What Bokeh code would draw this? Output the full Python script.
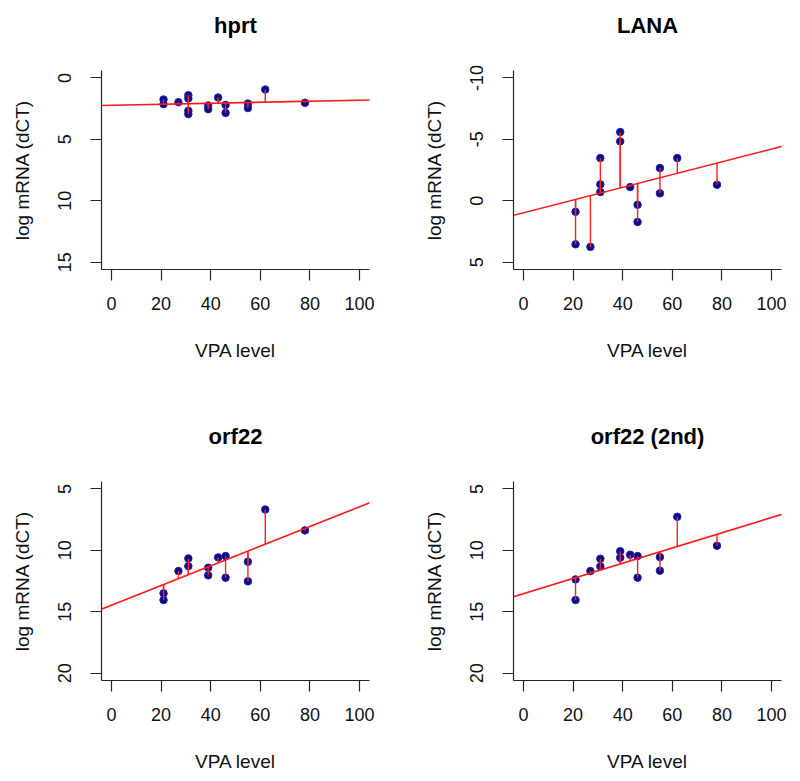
from bokeh.plotting import figure
from bokeh.layouts import gridplot
from bokeh.models import Range1d, FixedTicker, Slope, Title
from bokeh.embed import file_html
from bokeh.resources import INLINE

# ---- data ----
titles = ["hprt", "LANA", "orf22", "orf22 (2nd)"]

hprt_x = [21, 21, 27, 31, 31, 31, 31, 39, 39, 43, 46, 46, 55, 55, 62, 78]
hprt_y = [1.76, 2.14, 1.98, 1.41, 1.68, 2.68, 2.95, 2.25, 2.55, 1.6, 2.2, 2.85, 2.09, 2.46, 0.95, 2.03]

lana_x = [21, 21, 27, 31, 31, 31, 39, 39, 43, 46, 46, 55, 55, 62, 78]
lana_y = [0.9, 3.55, 3.76, -3.47, -1.33, -0.71, -5.59, -4.83, -1.11, 0.33, 1.73, -2.66, -0.6, -3.47, -1.3]

orf22_x = [21, 21, 27, 31, 31, 39, 39, 43, 46, 46, 55, 55, 62, 78]
orf22_y = [13.5, 14.05, 11.69, 10.66, 11.29, 11.42, 12.04, 10.58, 10.47, 12.23, 10.93, 12.53, 6.68, 8.38]

orf22b_x = [21, 21, 27, 31, 31, 39, 39, 43, 46, 46, 55, 55, 62, 78]
orf22b_y = [12.37, 14.05, 11.69, 10.69, 11.31, 10.07, 10.61, 10.36, 10.47, 12.23, 10.55, 11.66, 7.27, 9.63]

# fitted regression lines (intercept, slope)
hprt_fit = (2.234, -0.0041)
lana_fit = (0.982, -0.0519)
orf22_fit = (14.48, -0.0802)
orf22b_fit = (13.53, -0.062)

x_ticks = [0, 20, 40, 60, 80, 100]
hprt_ticks = [0, 5, 10, 15]
lana_ticks = [-10, -5, 0, 5]
orf22_ticks = [5, 10, 15, 20]

FONT = "Liberation Sans"
AX = "#262626"


def panel(title, xs, ys, fit, yticks, left, right, top, bottom):
    lo, hi = min(yticks), max(yticks)
    pad = (hi - lo) * 0.04
    p = figure(frame_width=268, frame_height=199,
               x_range=Range1d(-4, 104), y_range=Range1d(hi + pad, lo - pad),
               output_backend="svg", toolbar_location=None,
               min_border_left=left, min_border_right=right,
               min_border_top=top, min_border_bottom=bottom)
    p.title = None
    p.outline_line_color = None
    p.grid.visible = False
    p.background_fill_color = "white"
    p.border_fill_color = "white"

    spacer = Title(text=" ", text_font_size="2px", standoff=22)
    head = Title(text=title, align="center", text_font=FONT, text_font_size="22px",
                 text_font_style="bold", text_color="black", standoff=14)
    p.add_layout(spacer, "above")
    p.add_layout(head, "above")

    for ax in (p.xaxis[0], p.yaxis[0]):
        ax.axis_line_color = AX
        ax.axis_line_width = 1.2
        ax.major_tick_line_color = AX
        ax.major_tick_line_width = 1.2
        ax.major_tick_out = 11
        ax.major_tick_in = 0
        ax.minor_tick_line_color = None
        ax.major_label_text_font = FONT
        ax.major_label_text_font_size = "18px"
        ax.major_label_text_color = "#111111"
        ax.axis_label_text_font = FONT
        ax.axis_label_text_font_size = "19px"
        ax.axis_label_text_font_style = "normal"
        ax.axis_label_text_color = "#111111"

    p.xaxis.ticker = FixedTicker(ticks=x_ticks)
    p.yaxis.ticker = FixedTicker(ticks=yticks)
    p.yaxis.major_label_overrides = {t: str(t) for t in yticks}
    p.xaxis.axis_label = "VPA level"
    p.yaxis.axis_label = "log mRNA (dCT)"
    p.xaxis.major_label_standoff = 16
    p.xaxis.axis_label_standoff = 27
    p.yaxis.major_label_standoff = 19
    p.yaxis.axis_label_standoff = 23
    p.yaxis.major_label_orientation = "vertical"

    a, b = fit
    fitted = [a + b * x for x in xs]
    p.scatter(xs, ys, size=7.5, fill_color="#0a0a86", line_color="#2323b0", line_width=1)
    p.segment(x0=xs, y0=ys, x1=xs, y1=fitted, line_color="#ff2020", line_width=1.4)
    p.add_layout(Slope(gradient=b, y_intercept=a, line_color="#ff1a1a", line_width=1.6))
    return p


p1 = panel(titles[0], hprt_x, hprt_y, hprt_fit, hprt_ticks, 101, 31, 70, 121)
p2 = panel(titles[1], lana_x, lana_y, lana_fit, lana_ticks, 113, 19, 70, 121)
p3 = panel(titles[2], orf22_x, orf22_y, orf22_fit, orf22_ticks, 101, 31, 91, 95)
p4 = panel(titles[3], orf22b_x, orf22b_y, orf22b_fit, orf22_ticks, 113, 19, 91, 95)

grid = gridplot([[p1, p2], [p3, p4]], toolbar_location=None)

open("out.html", "w").write(file_html(grid, INLINE))
